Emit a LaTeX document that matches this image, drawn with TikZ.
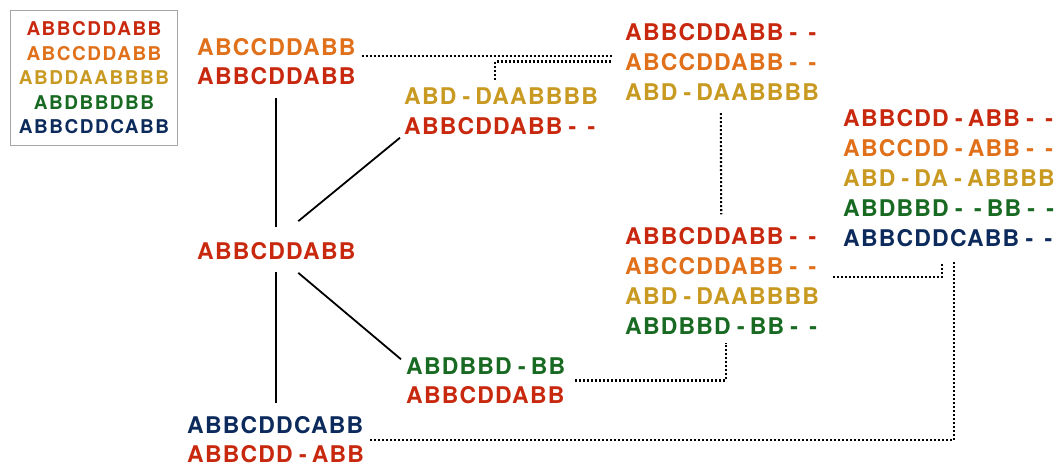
\documentclass[tikz,border=0pt]{standalone}
\usepackage{fontspec}
\newfontfamily\hv{TeX Gyre Heros}[LetterSpace=5.2]
\newfontfamily\hvl{TeX Gyre Heros}[LetterSpace=8]
\newcommand\gp{\makebox[19pt]{\hspace{1.2pt}-}}
\definecolor{cr}{HTML}{C8290E}
\definecolor{co}{HTML}{E0701A}
\definecolor{cy}{HTML}{C99A22}
\definecolor{cg}{HTML}{186A22}
\definecolor{cb}{HTML}{0C2B5C}
\begin{document}
\begin{tikzpicture}[x=1pt,y=-1pt,
  seq/.style={inner sep=0pt, anchor=west, align=left, font=\hv\bfseries\fontsize{23}{30}\selectfont},
  seqn/.style={seq, font=\hv\bfseries\fontsize{23}{29}\selectfont},
  tree/.style={line width=1.8pt, draw=black},
  link/.style={line width=2.1pt, dash pattern=on 2pt off 2pt, draw=black},
  legend/.style={draw=black!35, line width=1.8pt, inner sep=0pt, minimum width=167pt, minimum height=135pt, align=center, font=\hvl\bfseries\fontsize{19}{24.5}\selectfont}
]
\useasboundingbox (0,0) rectangle (1060,466);

\node[legend] (leg) at (94,78) {\color{cr}ABBCDDABB\\ \color{co}ABCCDDABB\\ \color{cy}ABDDAABBBB\\ \color{cg}ABDBBDBB\\ \color{cb}ABBCDDCABB};

\node[seqn] (A) at (197,61.5) {\color{co}ABCCDDABB\\ \color{cr}ABBCDDABB};
\node[seq] (B) at (404,111) {\color{cy}ABD\gp DAABBBB\\ \color{cr}ABBCDDABB\gp\gp};
\node[seq] (root) at (197,251) {\color{cr}ABBCDDABB};
\node[seqn] (C) at (406,380.5) {\color{cg}ABDBBD\gp BB\\ \color{cr}ABBCDDABB};
\node[seqn] (bot) at (187,440) {\color{cb}ABBCDDCABB\\ \color{cr}ABBCDD\gp ABB};
\node[seq] (D) at (625,61.5) {\color{cr}ABBCDDABB\gp\gp\\ \color{co}ABCCDDABB\gp\gp\\ \color{cy}ABD\gp DAABBBB};
\node[seq] (E) at (625,281) {\color{cr}ABBCDDABB\gp\gp\\ \color{co}ABCCDDABB\gp\gp\\ \color{cy}ABD\gp DAABBBB\\ \color{cg}ABDBBD\gp BB\gp\gp};
\node[seq] (F) at (843,178.5) {\color{cr}ABBCDD\gp ABB\gp\gp\\ \color{co}ABCCDD\gp ABB\gp\gp\\ \color{cy}ABD\gp DA\gp ABBBB\\ \color{cg}ABDBBD\gp\gp BB\gp\gp\\ \color{cb}ABBCDDCABB\gp\gp};

% tree edges
\draw[tree] ([yshift=15pt]root.north) -- ([yshift=-13pt]root.north |- A.south);
\draw[tree] ([yshift=-12pt]root.south) -- ([yshift=14pt]root.south |- bot.north);
\draw[tree] ([xshift=22pt,yshift=21pt]root.north) -- ([xshift=-4pt,yshift=-3pt]B.south west);
\draw[tree] ([xshift=22pt,yshift=-13pt]root.south) -- ([xshift=-5pt,yshift=-2pt]C.north west);

% alignment links
\draw[link] ([xshift=6pt,yshift=5.5pt]A.east) -- ([xshift=-13pt,yshift=5.5pt]D.west);
\draw[link] ([xshift=-7pt,yshift=7pt]B.north) |- ([xshift=-13pt]D.west);
\draw[link] ([xshift=-2.5pt,yshift=-13pt]D.south) -- ([xshift=-2.5pt,yshift=13pt]E.north);
\draw[link] ([xshift=11pt,yshift=4pt]E.east) -| ([xshift=-9pt,yshift=-15pt]F.south);
\draw[link] ([xshift=10pt]C.east) -| ([xshift=2.5pt,yshift=-8pt]E.south);
\draw[link] ([xshift=6pt]bot.east) -| ([xshift=3pt,yshift=-15pt]F.south);
\end{tikzpicture}
\end{document}
